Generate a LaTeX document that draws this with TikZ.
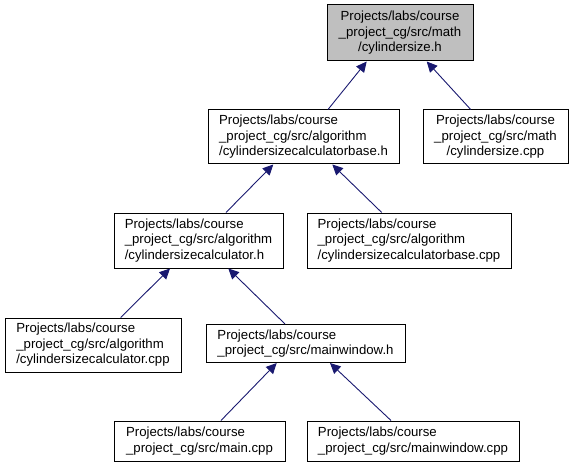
\documentclass[tikz,border=0pt]{standalone}
\usepackage{fontspec}
\setmainfont{Liberation Sans}
\usetikzlibrary{arrows.meta}
\definecolor{edgeblue}{HTML}{191970}
\definecolor{boxgray}{HTML}{BFBFBF}
\tikzset{
  file/.style={draw=black, line width=1pt, rectangle, inner sep=0pt, align=left,
    font=\fontsize{13.2}{15.5}\selectfont, fill=white},
  centerfile/.style={file, align=center},
  mainfile/.style={centerfile, fill=boxgray},
  dep/.style={draw=edgeblue, line width=0.9pt,
    {Triangle[length=10.5pt,width=10pt,fill=edgeblue]}-}
}
\begin{document}
\begin{tikzpicture}[x=1pt,y=1pt]
\useasboundingbox (0,0) rectangle (573,-468);
\node[mainfile, minimum width=146pt, minimum height=56pt] (A) at (400,-33)
  {Projects/labs/course\\\_project\_cg/src/math\\/cylindersize.h};
\node[file, minimum width=191pt, minimum height=54pt] (B) at (303.5,-137)
  {Projects/labs/course\\\_project\_cg/src/algorithm\\/cylindersizecalculatorbase.h};
\node[centerfile, minimum width=145pt, minimum height=54pt] (C) at (495.5,-137)
  {Projects/labs/course\\\_project\_cg/src/math\\/cylindersize.cpp};
\node[file, minimum width=169pt, minimum height=55pt] (D) at (198.5,-240.5)
  {Projects/labs/course\\\_project\_cg/src/algorithm\\/cylindersizecalculator.h};
\node[file, minimum width=204pt, minimum height=55pt] (E) at (409,-240.5)
  {Projects/labs/course\\\_project\_cg/src/algorithm\\/cylindersizecalculatorbase.cpp};
\node[file, minimum width=176pt, minimum height=54pt] (F) at (93,-345)
  {Projects/labs/course\\\_project\_cg/src/algorithm\\/cylindersizecalculator.cpp};
\node[file, minimum width=199pt, minimum height=38pt] (G) at (305.5,-343.5)
  {Projects/labs/course\\\_project\_cg/src/mainwindow.h};
\node[file, minimum width=171pt, minimum height=40pt] (H) at (199.5,-441)
  {Projects/labs/course\\\_project\_cg/src/main.cpp};
\node[file, minimum width=212pt, minimum height=40pt] (I) at (413,-441)
  {Projects/labs/course\\\_project\_cg/src/mainwindow.cpp};
\draw[dep] ([xshift=-33.3pt]A.south) -- ([xshift=24.5pt]B.north);
\draw[dep] ([xshift=26.7pt]A.south) -- ([xshift=-24.8pt]C.north);
\draw[dep] ([xshift=-30.2pt]B.south) -- ([xshift=27.5pt]D.north);
\draw[dep] ([xshift=28.8pt]B.south) -- ([xshift=-27.3pt]E.north);
\draw[dep] ([xshift=-28.5pt]D.south) -- ([xshift=27.7pt]F.north);
\draw[dep] ([xshift=29.8pt]D.south) -- ([xshift=-20.5pt]G.north);
\draw[dep] ([xshift=-28.8pt]G.south) -- ([xshift=21.5pt]H.north);
\draw[dep] ([xshift=24.5pt]G.south) -- ([xshift=-22pt]I.north);
\end{tikzpicture}
\end{document}
